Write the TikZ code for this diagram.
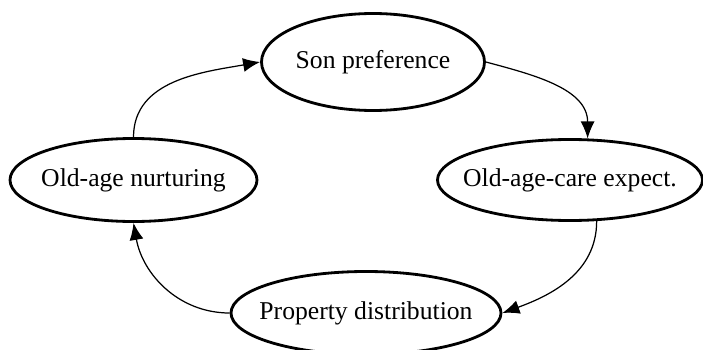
\documentclass[tikz,border=0pt]{standalone}
\usepackage{fontspec}
\setmainfont{Liberation Serif}
\usetikzlibrary{shapes.geometric,arrows.meta}

\begin{document}
\begin{tikzpicture}[
		factor/.style={draw, ellipse, line width=1.6pt, inner xsep=-1cm, inner ysep=0pt,
			font=\fontsize{14.6}{16}\selectfont},
		link/.style={line width=0.7pt, -{Latex[length=3.4mm,width=2.8mm]}}
	]
		\useasboundingbox (0,0) rectangle (14.06,6.98);
		% ellipses
		\node[factor, minimum width=4.46cm, minimum height=1.94cm] (son) at (7.46,5.74) {Son preference};
		\node[factor, minimum width=5.30cm, minimum height=1.62cm] (care) at (11.40,3.38) {Old-age-care expect.};
		\node[factor, minimum width=5.40cm, minimum height=1.66cm] (prop) at (7.32,0.72) {Property distribution};
		\node[factor, minimum width=4.94cm, minimum height=1.66cm] (nurt) at (2.67,3.38) {Old-age nurturing};

		% arrows
		\draw[link] (son.east) to[out=-15,in=90] (care.67);
		\draw[link] (care.-57) to[out=-90,in=20] (prop.east);
		\draw[link] (prop.west) to[out=180,in=-80] (nurt.south);
		\draw[link] (nurt.north) to[out=90,in=190] (son.west);
	\end{tikzpicture}
\end{document}
